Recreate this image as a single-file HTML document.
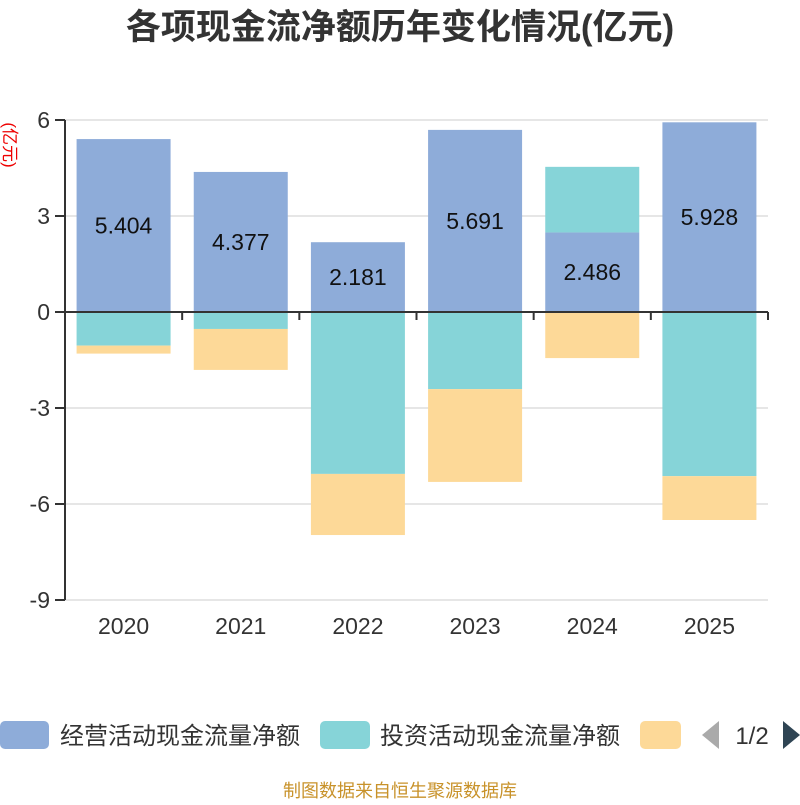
<!DOCTYPE html>
<html><head><meta charset="utf-8"><style>
body{margin:0;background:#fff;}
svg text{font-family:"Liberation Sans","Noto Sans CJK SC",sans-serif;}
</style></head><body>
<svg width="800" height="800" xmlns="http://www.w3.org/2000/svg" id="chart">
<text x="400" y="39" text-anchor="middle" font-size="35" font-weight="bold" fill="#333">各项现金流净额历年变化情况(亿元)</text>
<text transform="translate(4,145) rotate(90)" text-anchor="middle" font-size="17" fill="#e00">(亿元)</text>
<g id="grid"></g><g id="bars"></g><g id="axes"></g>
<g>
<rect x="0" y="721" width="49" height="28" rx="5" fill="#8eacd9"/>
<text x="60" y="744" font-size="24" fill="#333">经营活动现金流量净额</text>
<rect x="320" y="721" width="50" height="28" rx="5" fill="#86d4d8"/>
<text x="380" y="744" font-size="24" fill="#333">投资活动现金流量净额</text>
<rect x="640" y="721" width="41" height="28" rx="5" fill="#fdd998"/>
<polygon points="719,721 719,749 702,735" fill="#aaa"/>
<text x="752" y="744" text-anchor="middle" font-size="24" fill="#333">1/2</text>
<polygon points="783,721 783,749 800,735" fill="#2f4554"/>
</g>
<text x="400" y="797" text-anchor="middle" font-size="18" fill="#c8922a">制图数据来自恒生聚源数据库</text>
</svg>
<script>
const years=["2020","2021","2022","2023","2024","2025"];
const operating=[5.404,4.377,2.181,5.691,2.486,5.928];
const investing=[-1.05,-0.53,-5.06,-2.41,2.05,-5.13];
const financing=[-0.25,-1.28,-1.91,-2.9,-1.44,-1.37];
const yTicks=[6,3,0,-3,-6,-9];
const NS="http://www.w3.org/2000/svg";
const X0=65,X1=768,Y0=312,PX=32;
const y=v=>Y0-v*PX;
const band=(X1-X0)/years.length;
const xc=i=>X0+band*(i+0.5);
function el(t,a,p){const e=document.createElementNS(NS,t);for(const k in a)e.setAttribute(k,a[k]);p.appendChild(e);return e;}
const grid=document.getElementById('grid'),bars=document.getElementById('bars'),axes=document.getElementById('axes');
yTicks.forEach(v=>{
 if(v!==0&&v!==-9){const g=el('line',{x1:X0,x2:X1,y1:y(v),y2:y(v),stroke:'#ccc'},grid);
 
 }
 const t=el('text',{x:X0-15,y:y(v)+8,'text-anchor':'end','font-size':23,fill:'#333'},axes);t.textContent=v;
 
 
 const tk=el('line',{x1:X0-10,x2:X0,y1:y(v),y2:y(v),stroke:'#333','stroke-width':2},axes);
 
 
});
const bl=el('line',{x1:X0,x2:X1,y1:y(-9),y2:y(-9),stroke:'#ccc'},grid);


const bw=94;
years.forEach((yr,i)=>{
 let pos=0,neg=0;
 [[operating,'#8eacd9','operating'],[investing,'#86d4d8','investing'],[financing,'#fdd998','financing']].forEach(([arr,c,n])=>{
  const v=arr[i];let top,bot;
  if(v>=0){top=pos+v;bot=pos;pos=top;}else{top=neg;bot=neg+v;neg=bot;}
  const r=el('rect',{x:xc(i)-bw/2,y:y(top),width:bw,height:y(bot)-y(top),fill:c},bars);
  
  
 });
 const lb=el('text',{x:xc(i),y:y(operating[i]/2)+8,'text-anchor':'middle','font-size':23,fill:'#111'},bars);
 lb.textContent=operating[i].toFixed(3);
 
 
 const xt=el('text',{x:xc(i),y:634,'text-anchor':'middle','font-size':23,fill:'#333'},axes);xt.textContent=yr;
 
 
});
for(let i=0;i<=years.length;i++){
 const t=el('line',{x1:X0+band*i,x2:X0+band*i,y1:Y0,y2:Y0+8,stroke:'#333','stroke-width':2},axes);
 
 
}
const xa=el('line',{x1:X0,x2:X1,y1:Y0,y2:Y0,stroke:'#333','stroke-width':2},axes);


const ya=el('line',{x1:X0,x2:X0,y1:y(6),y2:y(-9),stroke:'#333','stroke-width':2},axes);


</script>
</body></html>
